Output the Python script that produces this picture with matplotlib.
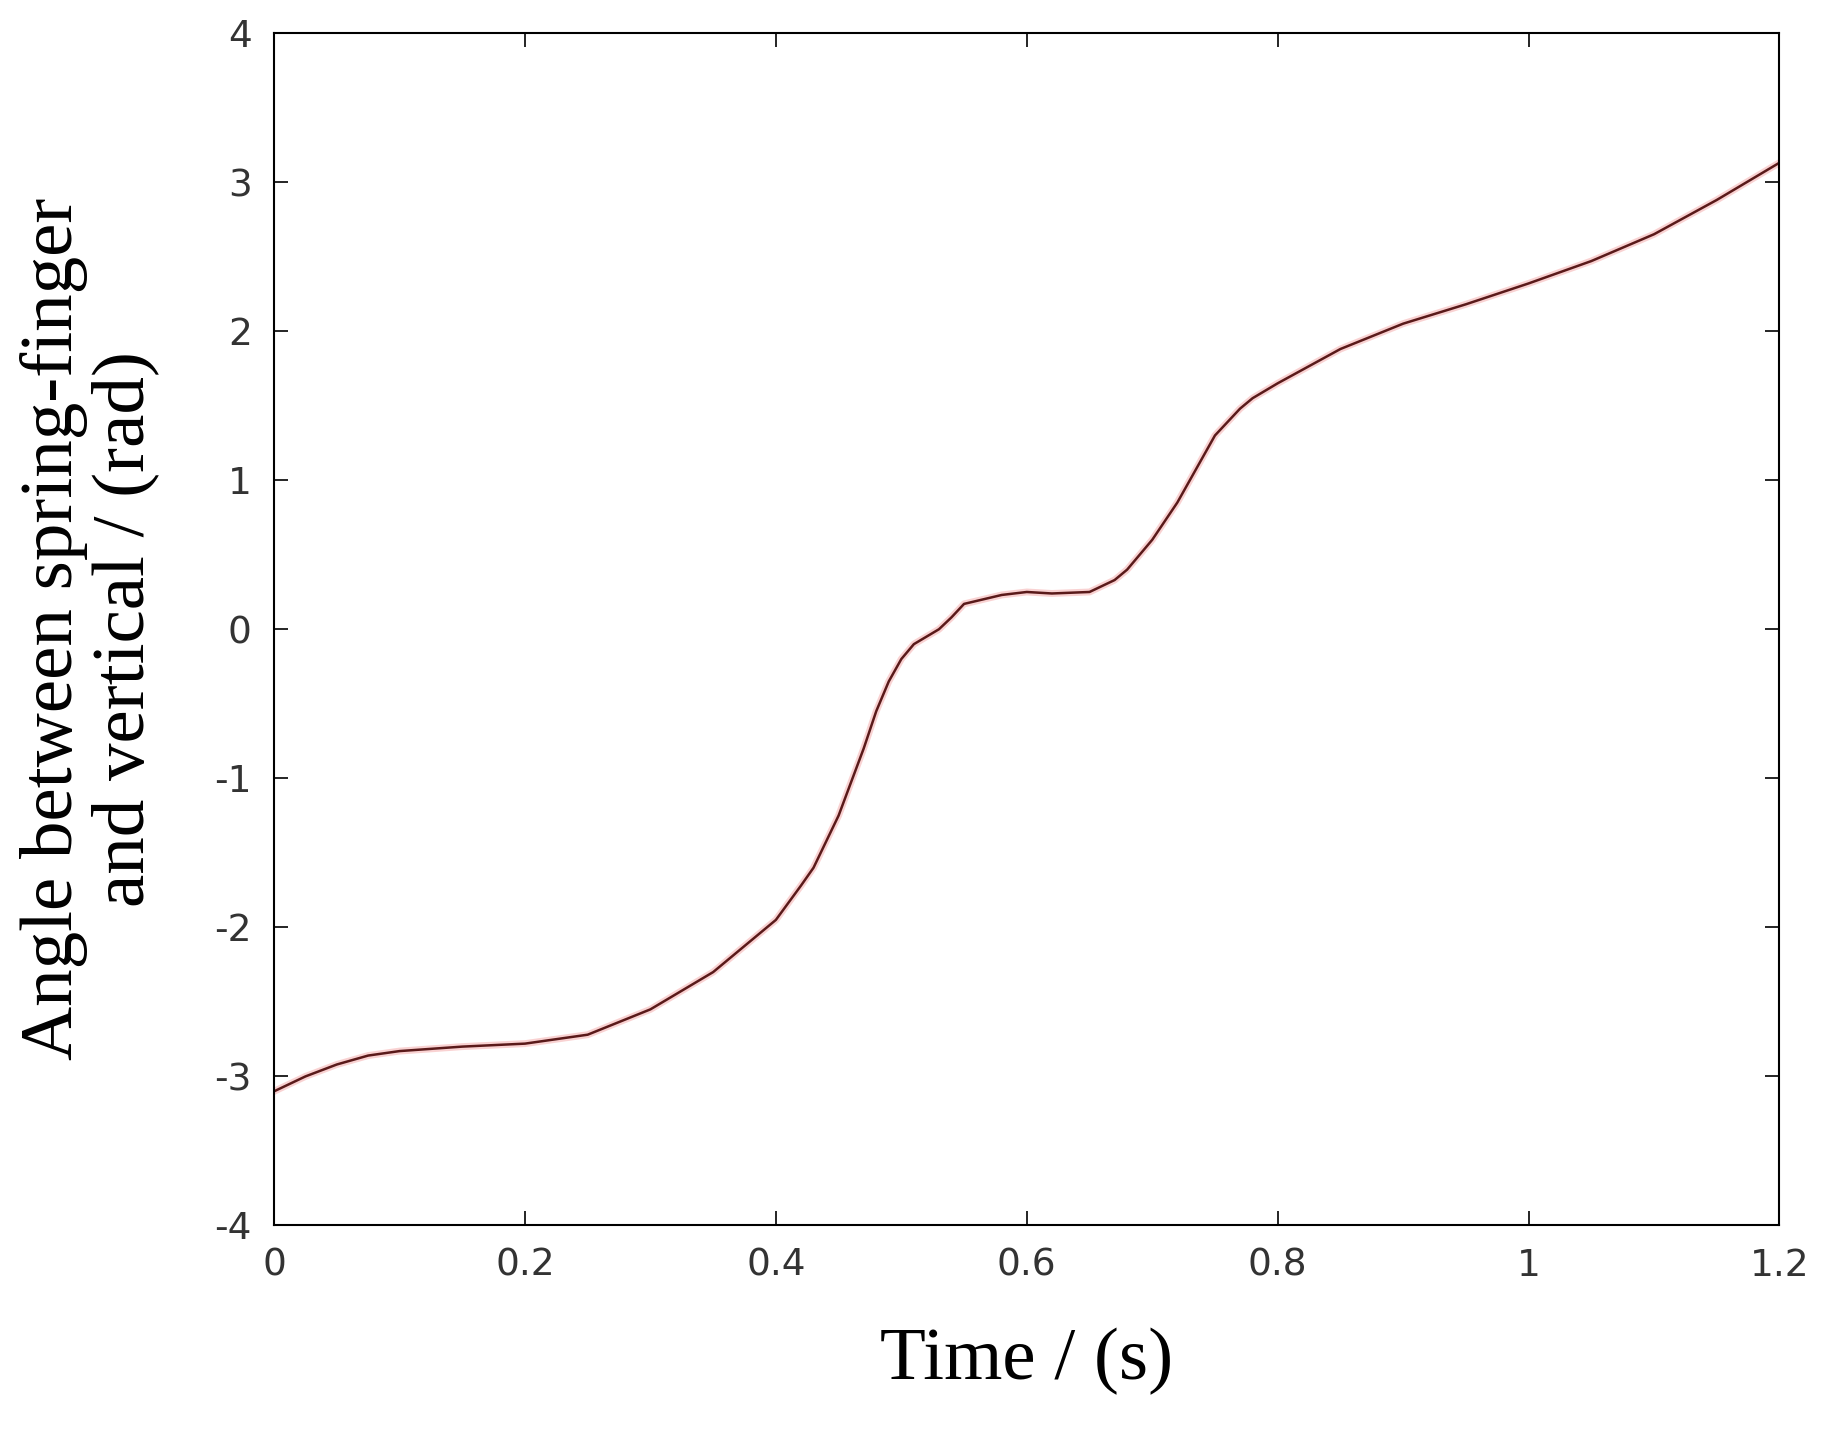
import matplotlib
matplotlib.use("Agg")
import matplotlib.pyplot as plt
plt.rcParams["axes.unicode_minus"] = False

time_s = [0, 0.025, 0.05, 0.075, 0.1, 0.15, 0.2, 0.25, 0.3, 0.35, 0.4, 0.42, 0.43, 0.45,
          0.47, 0.48, 0.49, 0.5, 0.51, 0.53, 0.54, 0.55, 0.58, 0.6, 0.62, 0.65, 0.67,
          0.68, 0.7, 0.72, 0.74, 0.75, 0.77, 0.78, 0.8, 0.85, 0.9, 0.95, 1.0, 1.05,
          1.1, 1.15, 1.2]
angle_rad = [-3.1, -3.0, -2.92, -2.86, -2.83, -2.8, -2.78, -2.72, -2.55, -2.3, -1.95,
             -1.72, -1.6, -1.25, -0.8, -0.55, -0.35, -0.2, -0.1, 0.0, 0.08, 0.17, 0.23,
             0.25, 0.24, 0.25, 0.33, 0.4, 0.6, 0.85, 1.15, 1.3, 1.48, 1.55, 1.65, 1.88,
             2.05, 2.18, 2.32, 2.47, 2.65, 2.88, 3.13]
xticks = [0, 0.2, 0.4, 0.6, 0.8, 1, 1.2]
xticklabels = ["0", "0.2", "0.4", "0.6", "0.8", "1", "1.2"]
yticks = [-4, -3, -2, -1, 0, 1, 2, 3, 4]

fig = plt.figure(figsize=(18.27, 14.35), dpi=100)
ax = fig.add_axes([0.150, 0.146, 0.824, 0.831])
ax.plot(time_s, angle_rad, color="#f08080", lw=5, alpha=0.35)
ax.plot(time_s, angle_rad, color="#5a1a1a", lw=1.8)
ax.set_xlim(0, 1.2)
ax.set_ylim(-4, 4)
ax.set_xticks(xticks)
ax.set_xticklabels(xticklabels)
ax.set_yticks(yticks)
ax.tick_params(direction="in", top=True, right=True, length=10, width=1.2,
               labelsize=27, labelcolor="#333333", pad=16)
for s in ax.spines.values():
    s.set_linewidth(1.5)
ax.set_xlabel("Time / (s)", family="Liberation Serif", fontsize=54, labelpad=32)
ax.set_ylabel("Angle between spring-finger\nand vertical / (rad)", family="Liberation Serif",
              fontsize=54, labelpad=40, linespacing=1.05)
fig.savefig("out.png", dpi=100)
